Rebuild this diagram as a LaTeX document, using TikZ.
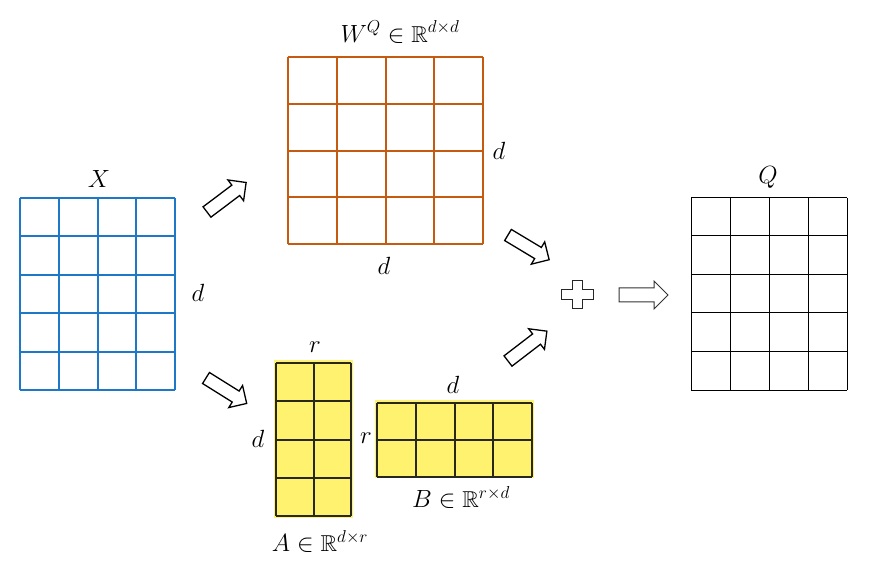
\documentclass[tikz,border=0pt]{standalone}
\usepackage{amssymb}
\definecolor{xblue}{RGB}{30,120,200}
\definecolor{worange}{RGB}{197,90,17}
\definecolor{lyellow}{RGB}{255,242,110}
\definecolor{gdark}{RGB}{40,40,30}
\newcommand\mgrid[7]{%
  \foreach \i in {0,...,#6} \draw[#1] ({round(#2+(#4-#2)*\i/#6)},#3) -- ({round(#2+(#4-#2)*\i/#6)},#5);
  \foreach \j in {0,...,#7} \draw[#1] (#2,{round(#3+(#5-#3)*\j/#7)}) -- (#4,{round(#3+(#5-#3)*\j/#7)});
}
\tikzset{
  lbl/.style={inner sep=0pt, font=\fontsize{23}{27}\selectfont},
  xline/.style={xblue, line width=1.3pt},
  wline/.style={worange, line width=1.5pt},
  qline/.style={black, line width=1pt},
  abline/.style={gdark, line width=1.5pt},
  barrow/.pic={\draw[line width=1.3pt, fill=white, line join=miter]
     (0,-6.5) -- ({#1-13},-6.5) -- ({#1-13},-13) -- (#1,0) -- ({#1-13},13) -- ({#1-13},6.5) -- (0,6.5) -- cycle;},
  barrowb/.pic={\draw[line width=1pt, draw=black!80, fill=white, line join=miter]
     (0,-7) -- ({#1-14},-7) -- ({#1-14},-14) -- (#1,0) -- ({#1-14},14) -- ({#1-14},7) -- (0,7) -- cycle;},
}
\begin{document}
\begin{tikzpicture}[x=1pt,y=-1pt]
\useasboundingbox (0,0) rectangle (871,564);
% X
\mgrid{xline}{20}{198}{175}{390}{4}{5}
\node[lbl] (Xl) at (99,179) {$X$};
\node[lbl] (Xd) at (198,293) {$d$};
% W
\mgrid{wline}{288}{57}{483}{244}{4}{4}
\node[lbl] (Wl) at (400,32) {$W^{Q}\in\mathbb{R}^{d\times d}$};
\node[lbl] (Wd1) at (499,151) {$d$};
\node[lbl] (Wd2) at (384,266) {$d$};
% Q
\mgrid{qline}{691}{198}{847}{390}{4}{5}
\node[lbl] (Ql) at (768,177) {$Q$};
% A
\fill[lyellow] (274,360) rectangle (353,518);
\mgrid{abline}{276}{363}{351}{516}{2}{4}
\node[lbl] (Ar) at (315,347) {$r$};
\node[lbl] (Ad) at (258,439) {$d$};
\node[lbl] (Al) at (320,541) {$A\in\mathbb{R}^{d\times r}$};
% B
\fill[lyellow] (375,400) rectangle (534,478);
\mgrid{abline}{377}{403}{532}{477}{4}{2}
\node[lbl] (Bd) at (453,385) {$d$};
\node[lbl] (Br) at (366,438) {$r$};
\node[lbl] (Bl) at (461,497) {$B\in\mathbb{R}^{r\times d}$};
% arrows
\pic[rotate=37] at (207,212) {barrow=49};
\pic[rotate=-32] at (206,378) {barrow=48};
\pic[rotate=-31] at (508,235) {barrow=48};
\pic[rotate=37.5] at (508,361) {barrow=49};
\pic at (619,295) {barrowb=49};
% plus
\draw[line width=1pt, draw=black!85, fill=white]
  (572,281) -- (582,281) -- (582,290) -- (593,290) -- (593,300) -- (582,300) -- (582,309)
  -- (572,309) -- (572,300) -- (561,300) -- (561,290) -- (572,290) -- cycle;
\end{tikzpicture}
\end{document}
